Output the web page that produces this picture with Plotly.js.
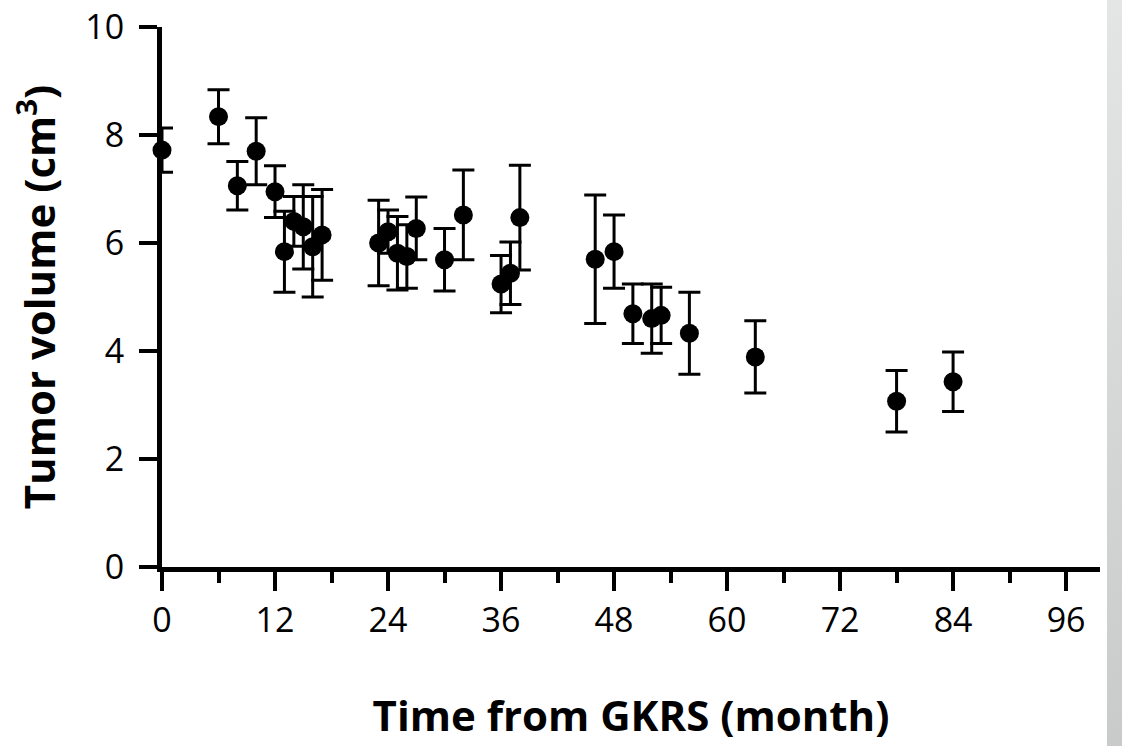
<!DOCTYPE html>
<html>
<head>
<meta charset="utf-8">
<script src="https://cdn.plot.ly/plotly-3.0.1.min.js"></script>
<style>
  html, body { margin: 0; padding: 0; background: #ffffff; }
  #chart { width: 1122px; height: 746px; }
  #strip { position: absolute; left: 1107px; top: 0; width: 15px; height: 746px;
           background: linear-gradient(to bottom, #e4e5e5, #c9cbcb); }
</style>
</head>
<body>
<div id="chart"></div>
<div id="strip"></div>
<script>
// Time from GKRS (months)
const months = [0, 6, 8, 10, 12, 13, 14, 15, 16, 17, 23, 24, 25, 26, 27, 30, 32, 36, 37, 38, 46, 48, 50, 52, 53, 56, 63, 78, 84];
// Mean tumor volume (cm^3)
const volume = [7.72, 8.34, 7.06, 7.70, 6.95, 5.84, 6.40, 6.30, 5.93, 6.15, 6.00, 6.21, 5.81, 5.75, 6.27, 5.69, 6.52, 5.24, 5.44, 6.47, 5.70, 5.84, 4.69, 4.60, 4.66, 4.33, 3.89, 3.07, 3.43];
// Error (cm^3)
const errorVal = [0.41, 0.50, 0.45, 0.62, 0.48, 0.75, 0.46, 0.78, 0.93, 0.84, 0.79, 0.40, 0.68, 0.59, 0.58, 0.58, 0.83, 0.53, 0.58, 0.97, 1.19, 0.68, 0.55, 0.64, 0.52, 0.76, 0.67, 0.57, 0.55];

const xTicks = [0, 12, 24, 36, 48, 60, 72, 84, 96];
const yTicks = [0, 2, 4, 6, 8, 10];

const tickFont = { family: 'Open Sans, sans-serif', size: 34, color: '#000' };
const titleFont = { family: 'Open Sans, sans-serif', size: 42, color: '#000', weight: 'bold' };

const trace = {
  x: months,
  y: volume,
  type: 'scatter',
  mode: 'markers',
  cliponaxis: false,
  marker: { color: '#000', size: 19, symbol: 'circle' },
  error_y: { type: 'data', array: errorVal, visible: true, color: '#000', thickness: 3, width: 11 },
  hoverinfo: 'x+y'
};

const layout = {
  width: 1122,
  height: 746,
  margin: { l: 162, r: 22, t: 27, b: 179 },
  paper_bgcolor: '#ffffff',
  plot_bgcolor: '#ffffff',
  showlegend: false,
  xaxis: {
    range: [0, 99.6],
    tickvals: xTicks,
    ticktext: xTicks.map(String),
    ticks: 'outside',
    ticklen: 19,
    tickwidth: 4,
    tickcolor: '#000',
    showline: true,
    linecolor: '#000',
    linewidth: 5,
    showgrid: false,
    zeroline: false,
    tickfont: tickFont,
    ticklabelstandoff: 0,
    minor: { dtick: 6, tick0: 0, ticks: 'outside', ticklen: 11, tickwidth: 4, tickcolor: '#000', showgrid: false },
    title: { text: 'Time from GKRS (month)', font: titleFont, standoff: 62 },
    automargin: false
  },
  yaxis: {
    range: [0, 10],
    tickvals: yTicks,
    ticktext: yTicks.map(String),
    ticks: 'outside',
    ticklen: 18,
    tickwidth: 4,
    tickcolor: '#000',
    showline: true,
    linecolor: '#000',
    linewidth: 5,
    showgrid: false,
    zeroline: false,
    tickfont: tickFont,
    ticklabelstandoff: 8,
    title: { text: 'Tumor volume (cm<sup>3</sup>)', font: titleFont, standoff: 18 },
    automargin: false
  }
};

Plotly.newPlot('chart', [trace], layout, { staticPlot: true, displayModeBar: false });
</script>
</body>
</html>
